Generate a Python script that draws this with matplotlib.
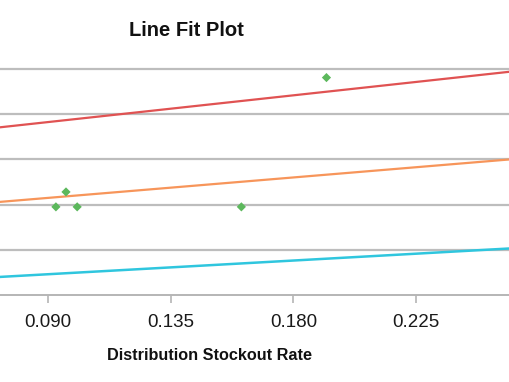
import matplotlib
matplotlib.use("Agg")
import matplotlib.pyplot as plt

plt.rcParams['font.family'] = ['Liberation Sans', 'DejaVu Sans']

# Data
obs_x = [0.1921, 0.0929, 0.0966, 0.1007, 0.1609]
obs_y = [4.81, 1.95, 2.28, 1.95, 1.95]
line_x = [0.0724, 0.2594]
red_y = [3.71, 4.94]
orange_y = [2.06, 3.00]
cyan_y = [0.40, 1.03]
xticks = [0.090, 0.135, 0.180, 0.225]
xtick_labels = ["0.090", "0.135", "0.180", "0.225"]
yticks = [1, 2, 3, 4, 5]

fig = plt.figure(figsize=(5.1, 3.82), dpi=100)
ax = fig.add_axes([0.0, 1 - 295/382, 1.0, (295 - 69)/382])

ax.set_xlim(line_x[0], line_x[1])
ax.set_ylim(0, 5)

for y in yticks:
    ax.axhline(y, color='#bdbdbd', lw=1.6, zorder=1, clip_on=False)

ax.plot(line_x, red_y, color='#e05252', lw=1.6, zorder=3)
ax.plot(line_x, orange_y, color='#f7955a', lw=1.6, zorder=3)
ax.plot(line_x, cyan_y, color='#2fc6de', lw=1.8, zorder=3)
ax.scatter(obs_x, obs_y, marker='D', s=22, color='#5cb85c', edgecolors='none', zorder=4)

for s in ['top', 'left', 'right']:
    ax.spines[s].set_visible(False)
ax.spines['bottom'].set_color('#b5b5b5')
ax.spines['bottom'].set_linewidth(1.4)

ax.set_yticks([])
ax.set_xticks(xticks)
ax.set_xticklabels(xtick_labels, fontsize=13.5, color='#1a1a1a')
ax.tick_params(axis='x', length=6, width=1.2, color='#b5b5b5', pad=8)

fig.text(186.5/510, 1 - 30/382, "Line Fit Plot", ha='center', va='center',
         fontsize=14.5, fontweight='bold', color='#111111')
fig.text(210/510, 1 - 355/382, "Distribution Stockout Rate", ha='center', va='center',
         fontsize=11.7, fontweight='bold', color='#111111')

fig.savefig("out.png", dpi=100)
